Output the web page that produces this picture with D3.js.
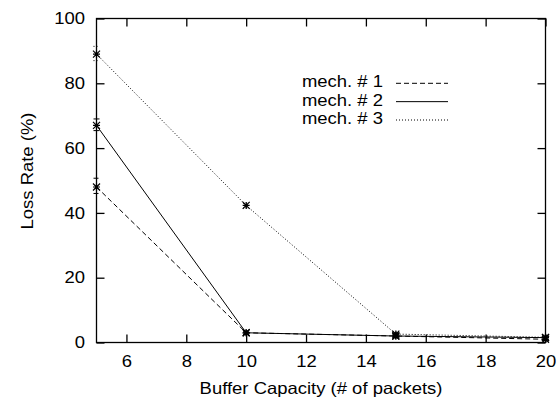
<!DOCTYPE html>
<html><head><meta charset="utf-8">
<script src="https://cdn.jsdelivr.net/npm/d3@7"></script>
<style>body{margin:0;background:#fff}svg{display:block}text{font-family:"Liberation Sans",Arial,sans-serif;fill:#000}</style>
</head><body><svg id="c" width="560" height="401"></svg>
<script>
const xValues = [5, 10, 15, 20];
const seriesNames = ["mech. # 1", "mech. # 2", "mech. # 3"];
const mech1 = [48, 3, 2, 1];
const mech1Lo = [46, 2.5, 1.5, 0.6];
const mech1Hi = [50.7, 3.5, 2.5, 1.4];
const mech2 = [67, 3, 2, 1.5];
const mech2Lo = [65.4, 2.5, 1.5, 1];
const mech2Hi = [69, 3.5, 2.5, 2];
const mech3 = [89, 42.3, 2.6, 1.6];
const mech3Lo = [87, 41.5, 2, 1];
const mech3Hi = [91.4, 43, 3.2, 2.2];
const xTicks = [6, 8, 10, 12, 14, 16, 18, 20];
const yTicks = [0, 20, 40, 60, 80, 100];

const series = [
  {name: seriesNames[0], v: mech1, lo: mech1Lo, hi: mech1Hi, dash: "5,3"},
  {name: seriesNames[1], v: mech2, lo: mech2Lo, hi: mech2Hi, dash: null},
  {name: seriesNames[2], v: mech3, lo: mech3Lo, hi: mech3Hi, dash: "1,2"}
];

const L = 96.5, R = 545.5, T = 18.5, B = 342.5;
const x = d3.scaleLinear().domain([5, 20]).range([L, R]);
const y = d3.scaleLinear().domain([0, 100]).range([B, T]);
const svg = d3.select("#c");
const tl = 8;
const FS = 16.5, SX = 1.12;

function stretch(sel) {
  sel.each(function () {
    const t = d3.select(this);
    const xv = +(t.attr("x") || 0);
    t.attr("x", xv / SX).attr("transform", ((t.attr("transform") || "") + ` scale(${SX},1)`).trim());
  });
}

// frame
svg.append("rect").attr("x", L).attr("y", T).attr("width", R - L).attr("height", B - T)
  .attr("fill", "none").attr("stroke", "#000").attr("stroke-width", 1.3);

// axes
const xa = svg.append("g").attr("transform", `translate(0,${B})`)
  .call(d3.axisBottom(x).tickValues(xTicks).tickSize(-tl).tickPadding(12.5).tickFormat(d3.format("d")));
const xt = svg.append("g").attr("transform", `translate(0,${T})`)
  .call(d3.axisTop(x).tickValues(xTicks).tickSize(-tl).tickFormat(""));
const ya = svg.append("g").attr("transform", `translate(${L},0)`)
  .call(d3.axisLeft(y).tickValues(yTicks).tickSize(-tl).tickPadding(11.5).tickFormat(d3.format("d")));
const yr = svg.append("g").attr("transform", `translate(${R},0)`)
  .call(d3.axisRight(y).tickValues(yTicks).tickSize(-tl).tickFormat(""));
[xa, xt, ya, yr].forEach(g => {
  g.select(".domain").remove();
  g.selectAll("line").attr("stroke", "#000").attr("stroke-width", 1.3);
  g.selectAll("text").attr("font-size", FS).style("font-family", '"Liberation Sans",Arial,sans-serif').attr("fill", "#000");
  stretch(g.selectAll("text"));
});

stretch(svg.append("text").attr("x", (L + R) / 2).attr("y", 394).attr("text-anchor", "middle")
  .attr("font-size", FS).text("Buffer Capacity (# of packets)"));
stretch(svg.append("text").attr("transform", `translate(33,171) rotate(-90)`).attr("text-anchor", "middle")
  .attr("font-size", FS).text("Loss Rate (%)"));

const line = d3.line().x((d, i) => x(xValues[i])).y(d => y(d));
const cw = 3;
series.forEach(s => {
  const g = svg.append("g");
  g.append("path").attr("d", line(s.v)).attr("fill", "none").attr("stroke", "#000")
    .attr("stroke-width", 1).attr("stroke-dasharray", s.dash);
  xValues.forEach((xv, i) => {
    const px = x(xv);
    g.append("line").attr("x1", px).attr("x2", px).attr("y1", y(s.lo[i])).attr("y2", y(s.hi[i]))
      .attr("stroke", "#000").attr("stroke-width", 1).attr("stroke-dasharray", s.dash);
    [s.lo[i], s.hi[i]].forEach(e => g.append("line").attr("x1", px - cw).attr("x2", px + cw)
      .attr("y1", y(e)).attr("y2", y(e)).attr("stroke", "#000").attr("stroke-width", 1).attr("stroke-dasharray", s.dash));
    const py = y(s.v[i]), r = 3.5;
    g.append("path").attr("d", `M${px - r},${py}H${px + r}M${px},${py - r}V${py + r}M${px - r},${py - r}L${px + r},${py + r}M${px - r},${py + r}L${px + r},${py - r}`)
      .attr("stroke", "#000").attr("stroke-width", 1.2).attr("fill", "none");
  });
});

// legend
series.forEach((s, i) => {
  const base = 87.3 + i * 18.35;
  stretch(svg.append("text").attr("x", 383).attr("y", base).attr("text-anchor", "end").attr("font-size", FS).text(s.name));
  svg.append("line").attr("x1", 396).attr("x2", 448).attr("y1", base - 4).attr("y2", base - 4)
    .attr("stroke", "#000").attr("stroke-width", 1).attr("stroke-dasharray", s.dash);
});
</script></body></html>
